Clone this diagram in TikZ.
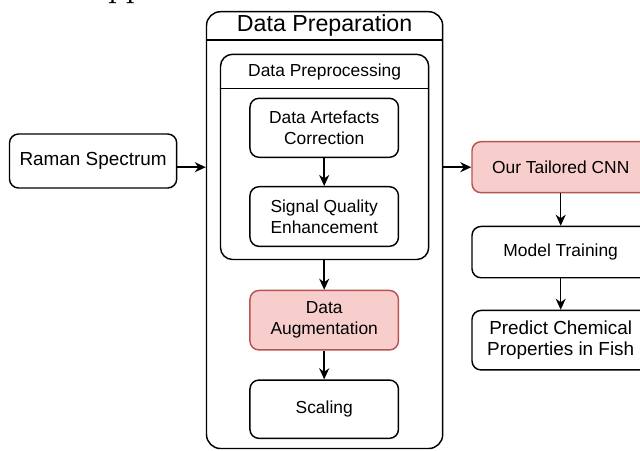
\documentclass[tikz,border=0pt]{standalone}
\usepackage{fontspec}
\setmainfont{Liberation Sans}
\newfontfamily\serifpp{lmroman10-regular.otf}
\usetikzlibrary{arrows.meta}
\definecolor{redfill}{HTML}{F8CECC}
\definecolor{redline}{HTML}{B85450}
\begin{document}
\begin{tikzpicture}[x=1pt,y=-1pt,
  box/.style={draw=black, line width=1.45pt, rounded corners=9pt, fill=white,
    align=center, inner sep=0pt, text=black, font=\fontsize{17.4}{20.9}\selectfont},
  redbox/.style={box, draw=redline, fill=redfill},
  container/.style={draw=black, line width=1.45pt, fill=white, inner sep=0pt},
  titletext/.style={inner sep=0pt, text=black},
  arr/.style={line width=1.45pt, -{Stealth[length=11pt,width=10pt,inset=3.5pt]}}]
\useasboundingbox (0,0) rectangle (640,450);
\clip (0,0) rectangle (640,450);
\fill[white] (0,0) rectangle (640,450);

% cut-off caption at the top
\node[anchor=base west, inner sep=0pt, font=\serifpp\fontsize{32}{38}\selectfont] (capt) at (108,-2.5) {pp};

% outer container
\node[container, rounded corners=14pt, minimum width=236.2pt, minimum height=436.8pt] (prep) at (324.6,230.1) {};
\draw[line width=1.45pt] (prep.west |- 0,40) -- (prep.east |- 0,40);
\node[titletext, font=\fontsize{23.2}{27.8}\selectfont] (preptitle) at (324.6,26) {Data Preparation};

% inner container
\node[container, rounded corners=12pt, minimum width=208.2pt, minimum height=205.2pt] (preproc) at (324.6,156.9) {};
\draw[line width=1.45pt] (preproc.west |- 0,88.3) -- (preproc.east |- 0,88.3);
\node[titletext, font=\fontsize{17.4}{20.9}\selectfont] (preproctitle) at (324.6,71.5) {Data Preprocessing};

% boxes
\node[box, minimum width=167.2pt, minimum height=54pt, font=\fontsize{18.9}{21.7}\selectfont] (raman) at (93.1,161) {Raman Spectrum};
\node[box, minimum width=148.5pt, minimum height=59pt] (art) at (324.2,127.8) {Data Artefacts\\Correction};
\node[box, minimum width=148.5pt, minimum height=59.6pt] (sig) at (324.2,216.5) {Signal Quality\\Enhancement};
\node[redbox, minimum width=148.5pt, minimum height=59.5pt] (aug) at (324.2,320.2) {Data\\Augmentation};
\node[box, minimum width=148.5pt, minimum height=58.3pt] (scal) at (324.2,409.2) {Scaling};
\node[redbox, minimum width=177.4pt, minimum height=51pt] (cnn) at (560.7,167.2) {Our Tailored CNN};
\node[box, minimum width=177.4pt, minimum height=51.3pt] (model) at (560.7,252.1) {Model Training};
\node[box, minimum width=177.4pt, minimum height=59.5pt, font=\fontsize{18.9}{21.7}\selectfont] (pred) at (560.7,340.2) {Predict Chemical\\Properties in Fish};

% connectors
\draw[arr] (raman.east |- cnn.west) -- (prep.west |- cnn.west);
\draw[arr] (prep.east |- cnn.west) -- (cnn.west);
\draw[arr] (art) -- (sig);
\draw[arr] (preproc.south -| aug.north) -- (aug.north);
\draw[arr] (aug) -- (scal);
\draw[arr] (cnn) -- (model);
\draw[arr] (model) -- (pred);
\end{tikzpicture}
\end{document}
